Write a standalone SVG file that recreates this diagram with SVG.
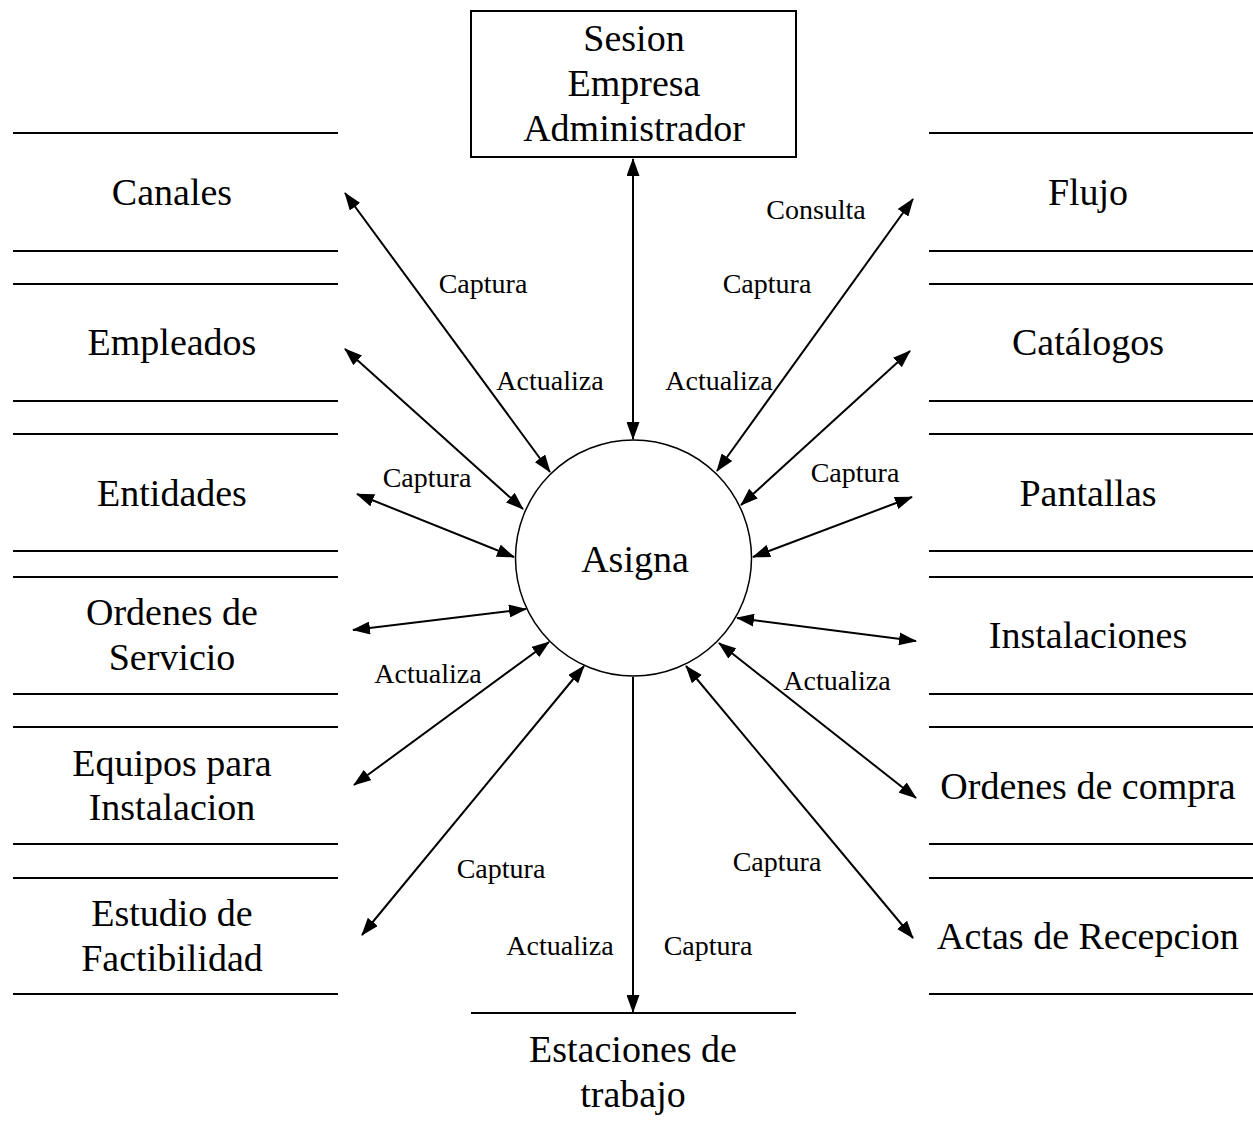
<svg xmlns="http://www.w3.org/2000/svg" width="1253" height="1129" viewBox="0 0 1253 1129">
<style>
.t{font-family:"Liberation Serif","Times New Roman",serif;font-size:38px;fill:#000;text-anchor:middle}
.l{font-family:"Liberation Serif","Times New Roman",serif;font-size:28px;fill:#000;text-anchor:middle}
.s{stroke:#000;stroke-width:2;fill:none}
.c{stroke:#000;stroke-width:2;fill:none;marker-start:url(#ah);marker-end:url(#ah)}
</style>
<defs>
<marker id="ah" markerUnits="userSpaceOnUse" markerWidth="18" markerHeight="13" refX="17" refY="6.5" orient="auto-start-reverse" viewBox="0 0 18 13">
<path d="M0,0 L18,6.5 L0,13 z" fill="#000"/>
</marker>
</defs>
<rect width="1253" height="1129" fill="#fff"/>
<g id="sesion">
<rect x="471" y="11" width="325" height="146" fill="#fff" stroke="#000" stroke-width="2"/>
<text class="t" x="634" y="51">Sesion</text>
<text class="t" x="634" y="96">Empresa</text>
<text class="t" x="634" y="141">Administrador</text>
</g>
<g id="asigna">
<circle cx="633.5" cy="558" r="118" fill="#fff" stroke="#000" stroke-width="1.5"/>
<text class="t" x="635" y="572">Asigna</text>
</g>
<g id="canales"><line class="s" x1="13" y1="133" x2="338" y2="133"/><line class="s" x1="13" y1="251" x2="338" y2="251"/><text class="t" x="172" y="205">Canales</text></g>
<g id="empleados"><line class="s" x1="13" y1="284" x2="338" y2="284"/><line class="s" x1="13" y1="401" x2="338" y2="401"/><text class="t" x="172" y="355">Empleados</text></g>
<g id="entidades"><line class="s" x1="13" y1="434" x2="338" y2="434"/><line class="s" x1="13" y1="551" x2="338" y2="551"/><text class="t" x="172" y="506">Entidades</text></g>
<g id="ordenes-servicio"><line class="s" x1="13" y1="577" x2="338" y2="577"/><line class="s" x1="13" y1="694" x2="338" y2="694"/><text class="t" x="172" y="625">Ordenes de</text><text class="t" x="172" y="670">Servicio</text></g>
<g id="equipos"><line class="s" x1="13" y1="727" x2="338" y2="727"/><line class="s" x1="13" y1="844" x2="338" y2="844"/><text class="t" x="172" y="776">Equipos para</text><text class="t" x="172" y="820">Instalacion</text></g>
<g id="estudio"><line class="s" x1="13" y1="878" x2="338" y2="878"/><line class="s" x1="13" y1="994" x2="338" y2="994"/><text class="t" x="172" y="926">Estudio de</text><text class="t" x="172" y="971">Factibilidad</text></g>
<g id="flujo"><line class="s" x1="929" y1="133" x2="1253" y2="133"/><line class="s" x1="929" y1="251" x2="1253" y2="251"/><text class="t" x="1088" y="205">Flujo</text></g>
<g id="catalogos"><line class="s" x1="929" y1="284" x2="1253" y2="284"/><line class="s" x1="929" y1="401" x2="1253" y2="401"/><text class="t" x="1088" y="355">Catálogos</text></g>
<g id="pantallas"><line class="s" x1="929" y1="434" x2="1253" y2="434"/><line class="s" x1="929" y1="551" x2="1253" y2="551"/><text class="t" x="1088" y="506">Pantallas</text></g>
<g id="instalaciones"><line class="s" x1="929" y1="577" x2="1253" y2="577"/><line class="s" x1="929" y1="694" x2="1253" y2="694"/><text class="t" x="1088" y="648">Instalaciones</text></g>
<g id="ordenes-compra"><line class="s" x1="929" y1="727" x2="1253" y2="727"/><line class="s" x1="929" y1="844" x2="1253" y2="844"/><text class="t" x="1088" y="799">Ordenes de compra</text></g>
<g id="actas"><line class="s" x1="929" y1="878" x2="1253" y2="878"/><line class="s" x1="929" y1="994" x2="1253" y2="994"/><text class="t" x="1088" y="949">Actas de Recepcion</text></g>
<g id="estaciones"><line class="s" x1="471" y1="1013" x2="796" y2="1013"/><text class="t" x="633" y="1062">Estaciones de</text><text class="t" x="633" y="1107">trabajo</text></g>
<g id="connectors">
<line class="c" x1="633" y1="159" x2="633" y2="439"/>
<line class="s" x1="633" y1="677" x2="633" y2="1012" marker-end="url(#ah)"/>
<line class="c" x1="345" y1="193" x2="550" y2="472"/>
<line class="c" x1="345" y1="349" x2="523" y2="509"/>
<line class="c" x1="357" y1="494" x2="514" y2="557"/>
<line class="c" x1="353" y1="630" x2="526" y2="609"/>
<line class="c" x1="354" y1="785" x2="549" y2="642"/>
<line class="c" x1="362" y1="935" x2="584" y2="666"/>
<line class="c" x1="913" y1="199" x2="717" y2="471"/>
<line class="c" x1="910" y1="351" x2="741" y2="505"/>
<line class="c" x1="912" y1="497" x2="753" y2="557"/>
<line class="c" x1="916" y1="641" x2="737" y2="618"/>
<line class="c" x1="916" y1="798" x2="719" y2="643"/>
<line class="c" x1="913" y1="938" x2="686" y2="666"/>
</g>
<g id="labels">
<text class="l" x="483" y="293">Captura</text>
<text class="l" x="550" y="390">Actualiza</text>
<text class="l" x="816" y="219">Consulta</text>
<text class="l" x="767" y="293">Captura</text>
<text class="l" x="719" y="390">Actualiza</text>
<text class="l" x="427" y="487">Captura</text>
<text class="l" x="855" y="482">Captura</text>
<text class="l" x="428" y="683">Actualiza</text>
<text class="l" x="837" y="690">Actualiza</text>
<text class="l" x="501" y="878">Captura</text>
<text class="l" x="777" y="871">Captura</text>
<text class="l" x="560" y="955">Actualiza</text>
<text class="l" x="708" y="955">Captura</text>
</g>
</svg>
